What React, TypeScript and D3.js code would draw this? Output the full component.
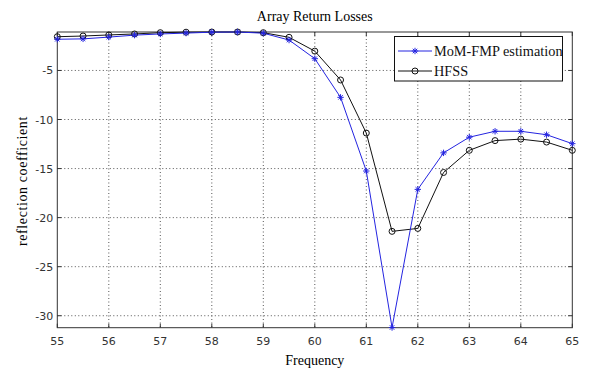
import React, { useEffect, useRef } from 'react';
import * as d3 from 'd3';

const freq = [55, 55.5, 56, 56.5, 57, 57.5, 58, 58.5, 59, 59.5, 60, 60.5, 61, 61.5, 62, 62.5, 63, 63.5, 64, 64.5, 65];
const mom = [-1.82, -1.78, -1.6, -1.4, -1.28, -1.19, -1.1, -1.08, -1.2, -1.9, -3.8, -7.74, -15.25, -31.2, -17.12, -13.4, -11.8, -11.2, -11.2, -11.55, -12.46];
const hfss = [-1.56, -1.49, -1.38, -1.28, -1.15, -1.1, -1.08, -1.08, -1.15, -1.62, -3.03, -5.97, -11.38, -21.4, -21.1, -15.4, -13.14, -12.15, -12.0, -12.3, -13.14];
const xTicks = [55, 56, 57, 58, 59, 60, 61, 62, 63, 64, 65];
const yTicks = [-5, -10, -15, -20, -25, -30];
const seriesNames = ['MoM-FMP estimation', 'HFSS'];

const W = 592;
const H = 371;
const FONT = '"Liberation Serif", "Times New Roman", serif';
const TICK_FONT = '"DejaVu Sans", sans-serif';

const drawChart = (svgEl: SVGSVGElement) => {
	const svg = d3.select(svgEl);
	svg.selectAll('*').remove();
	const left = 57.3;
	const right = 572.3;
	const top = 32;
	const bottom = 327.7;
	const x = d3.scaleLinear().domain([55, 65]).range([left, right]);
	const y = d3.scaleLinear().domain([-31.22, -1.08]).range([bottom, top]);

	svg.append('rect').attr('width', W).attr('height', H).attr('fill', '#fff');

	// grid
	const grid = svg.append('g').attr('stroke', '#555').attr('stroke-width', 1)
		.attr('stroke-dasharray', '1,2.5');
	xTicks.slice(1, -1).forEach((t) => {
		grid.append('line').attr('x1', x(t)).attr('x2', x(t)).attr('y1', top).attr('y2', bottom);
	});
	yTicks.forEach((t) => {
		grid.append('line').attr('x1', left).attr('x2', right).attr('y1', y(t)).attr('y2', y(t));
	});

	// box
	svg.append('rect').attr('x', left).attr('y', top).attr('width', right - left)
		.attr('height', bottom - top).attr('fill', 'none').attr('stroke', '#333').attr('stroke-width', 1);

	// ticks
	const tk = svg.append('g').attr('stroke', '#333');
	xTicks.forEach((t) => {
		tk.append('line').attr('x1', x(t)).attr('x2', x(t)).attr('y1', bottom).attr('y2', bottom - 4);
		tk.append('line').attr('x1', x(t)).attr('x2', x(t)).attr('y1', top).attr('y2', top + 4);
	});
	yTicks.forEach((t) => {
		tk.append('line').attr('x1', left).attr('x2', left + 4).attr('y1', y(t)).attr('y2', y(t));
		tk.append('line').attr('x1', right).attr('x2', right - 4).attr('y1', y(t)).attr('y2', y(t));
	});

	const txt = svg.append('g').attr('font-family', TICK_FONT).attr('font-size', 11).attr('fill', '#333');
	xTicks.forEach((t) => {
		txt.append('text').attr('x', x(t)).attr('y', bottom + 17).attr('text-anchor', 'middle').text(t);
	});
	yTicks.forEach((t) => {
		txt.append('text').attr('x', left - 4).attr('y', y(t) + 4).attr('text-anchor', 'end').text(t);
	});

	svg.append('text').attr('x', (left + right) / 2).attr('y', 21).attr('text-anchor', 'middle')
		.attr('font-family', FONT).attr('font-size', 14).text('Array Return Losses');
	svg.append('text').attr('x', (left + right) / 2).attr('y', 365).attr('text-anchor', 'middle')
		.attr('font-family', FONT).attr('font-size', 14).text('Frequency');
	svg.append('text').attr('transform', `translate(27,181) rotate(-90)`)
		.attr('text-anchor', 'middle').attr('font-family', FONT).attr('font-size', 14)
		.attr('letter-spacing', 0.6).text('reflection coefficient');

	const line = d3.line<number>().x((_, i) => x(freq[i])).y((d) => y(d));
	const blue = '#2424e0';

	svg.append('path').datum(hfss).attr('d', line).attr('fill', 'none').attr('stroke', '#111').attr('stroke-width', 1);
	svg.append('path').datum(mom).attr('d', line).attr('fill', 'none').attr('stroke', blue).attr('stroke-width', 1);

	const star = (g: d3.Selection<SVGGElement, unknown, null, undefined>, cx: number, cy: number) => {
		const r = 3.2;
		const s = g.append('g').attr('stroke', blue).attr('stroke-width', 1);
		s.append('line').attr('x1', cx - r).attr('x2', cx + r).attr('y1', cy).attr('y2', cy);
		s.append('line').attr('x1', cx).attr('x2', cx).attr('y1', cy - r).attr('y2', cy + r);
		s.append('line').attr('x1', cx - r * 0.7).attr('x2', cx + r * 0.7).attr('y1', cy - r * 0.7).attr('y2', cy + r * 0.7);
		s.append('line').attr('x1', cx - r * 0.7).attr('x2', cx + r * 0.7).attr('y1', cy + r * 0.7).attr('y2', cy - r * 0.7);
	};

	const mk = svg.append('g');
	hfss.forEach((v, i) => {
		mk.append('circle').attr('cx', x(freq[i])).attr('cy', y(v)).attr('r', 3)
			.attr('fill', 'none').attr('stroke', '#111');
	});
	mom.forEach((v, i) => star(mk, x(freq[i]), y(v)));

	// legend
	const lg = svg.append('g');
	lg.append('rect').attr('x', 394.5).attr('y', 36.5).attr('width', 168).attr('height', 44.5)
		.attr('fill', '#fff').attr('stroke', '#111');
	const rows = [51, 71];
	seriesNames.forEach((name, i) => {
		const c = i === 0 ? blue : '#111';
		lg.append('line').attr('x1', 398).attr('x2', 432).attr('y1', rows[i]).attr('y2', rows[i]).attr('stroke', c);
		if (i === 0) star(lg, 415, rows[i]);
		else lg.append('circle').attr('cx', 415).attr('cy', rows[i]).attr('r', 3).attr('fill', 'none').attr('stroke', c);
		lg.append('text').attr('x', 434).attr('y', rows[i] + 5).attr('font-family', FONT).attr('font-size', 14.3)
			.attr('fill', '#111').text(name);
	});
};

const App = () => {
	const ref = useRef<SVGSVGElement>(null);
	useEffect(() => {
		if (ref.current) drawChart(ref.current);
	});
	return (
		<svg ref={ ref } width={ W } height={ H } style={ { position: 'absolute', left: 0, top: 0 } }/>
	);
};

export default App;
